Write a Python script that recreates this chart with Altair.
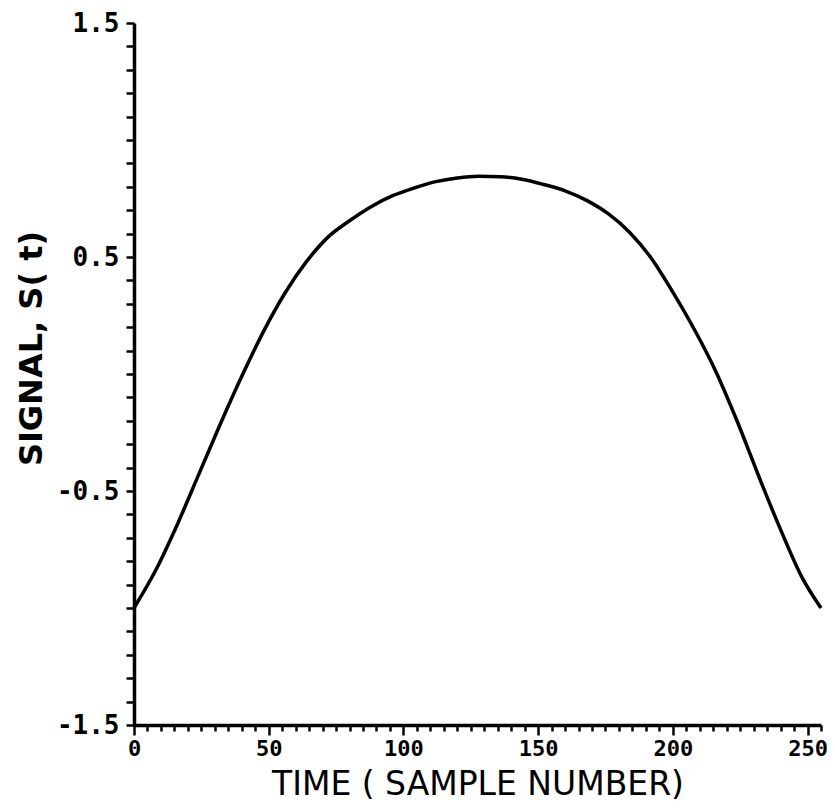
import altair as alt
import pandas as pd

# Data
time_samples = [0, 8, 16, 24, 32, 40, 48, 56, 64, 72, 80, 88, 96, 104, 112, 120, 128,
                136, 144, 152, 160, 168, 176, 184, 192, 200, 208, 216, 224, 232, 240, 248, 255]
signal = [-1.00, -0.84, -0.645, -0.43, -0.215, -0.01, 0.18, 0.345, 0.48, 0.585, 0.655, 0.715,
          0.762, 0.795, 0.822, 0.838, 0.845, 0.843, 0.832, 0.81, 0.783, 0.742, 0.685, 0.605,
          0.495, 0.35, 0.19, 0.01, -0.205, -0.44, -0.665, -0.87, -1.00]

x_tick_values = list(range(0, 256, 5))
x_label_values = [0, 50, 100, 150, 200, 250]
y_tick_values = [round(-1.5 + 0.1 * i, 1) for i in range(31)]
y_label_values = [-1.5, -0.5, 0.5, 1.5]

df = pd.DataFrame({"t": time_samples, "s": signal})

label_font = "DejaVu Sans Mono"
title_font = "DejaVu Sans"

x_axis = alt.Axis(
    values=x_tick_values,
    labelExpr="datum.value % 50 == 0 ? format(datum.value, 'd') : ''",
    tickSize={"condition": {"test": "datum.value % 50 == 0", "value": 10}, "value": 6},
    tickWidth=2.5,
    tickColor="black",
    domainColor="black",
    domainWidth=3.5,
    grid=False,
    labelFont=label_font,
    labelFontWeight="bold",
    labelFontSize=22,
    labelColor="black",
    labelPadding=3,
    labelFlush=False,
    labelOverlap=False,
    title="TIME ( SAMPLE NUMBER)",
    titleFont=title_font,
    titleFontWeight="normal",
    titleFontSize=33,
    titleColor="black",
    titlePadding=9,
)

y_axis = alt.Axis(
    values=y_tick_values,
    labelExpr="abs(round(datum.value*10)) % 10 == 5 ? (datum.value < 0 ? '-' : '') + format(abs(datum.value), '.1f') : ''",
    tickSize=8,
    tickWidth=2.5,
    tickColor="black",
    domainColor="black",
    domainWidth=3.5,
    grid=False,
    labelFont=label_font,
    labelFontWeight="bold",
    labelFontSize=26,
    labelColor="black",
    labelPadding=7,
    labelOverlap=False,
    labelFlush=False,
    title="SIGNAL, S( t)",
    titleFont=title_font,
    titleFontWeight="bold",
    titleFontSize=32,
    titleColor="black",
    titlePadding=8,
    titleY=325,
)

chart = (
    alt.Chart(df)
    .mark_line(color="black", strokeWidth=3.5, interpolate="monotone")
    .encode(
        x=alt.X("t:Q", scale=alt.Scale(domain=[0, 255], nice=False, zero=False), axis=x_axis),
        y=alt.Y("s:Q", scale=alt.Scale(domain=[-1.5, 1.5], nice=False, zero=False), axis=y_axis),
    )
    .properties(
        width=687,
        height=702,
        autosize=alt.AutoSizeParams(type="none"),
        padding={"left": 126, "top": 15, "right": 6, "bottom": 80},
    )
    .configure_view(stroke=None)
)

chart.save("out.html", embed_options={"renderer": "svg", "actions": False})
